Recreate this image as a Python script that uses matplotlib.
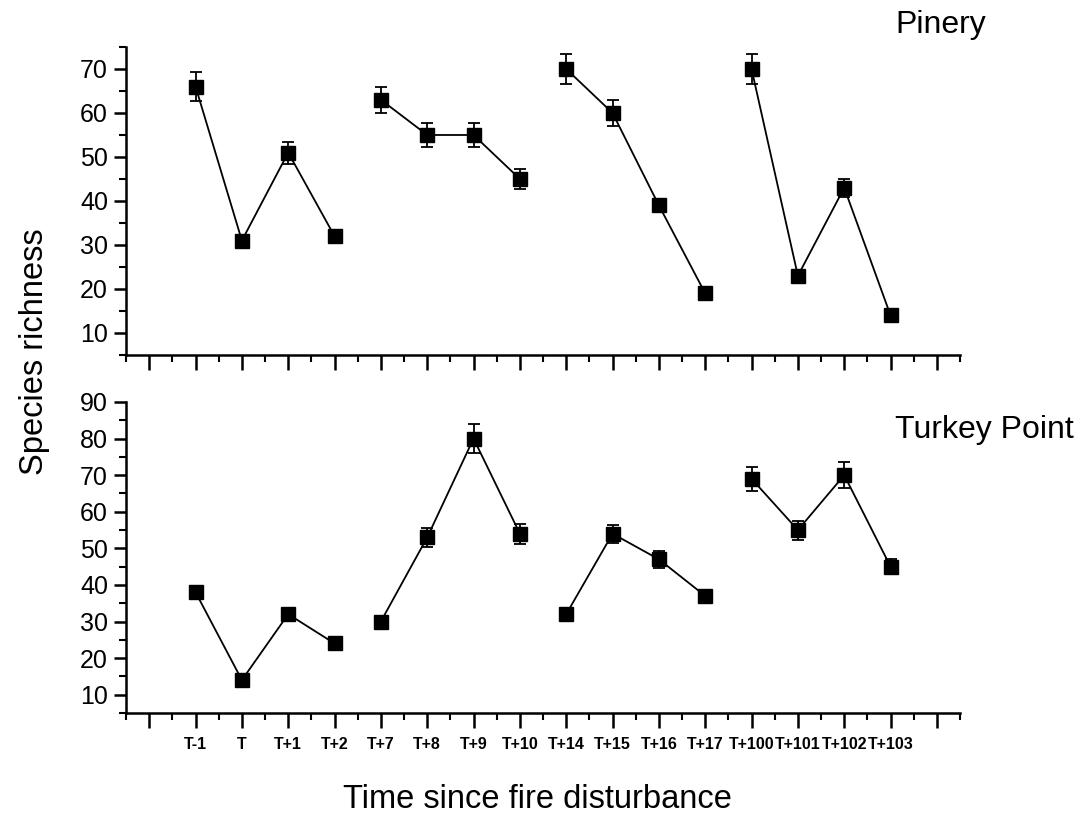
import numpy as np
import matplotlib
matplotlib.use("Agg")
import matplotlib.pyplot as plt
from matplotlib.ticker import MultipleLocator

plt.rcParams['font.family'] = ['Liberation Sans', 'DejaVu Sans']

# sampling times since the fire, in four series of four
time_labels = ['T-1', 'T', 'T+1', 'T+2', 'T+7', 'T+8', 'T+9', 'T+10',
               'T+14', 'T+15', 'T+16', 'T+17', 'T+100', 'T+101', 'T+102', 'T+103']
group_size = 4

pinery_rich = [66, 31, 51, 32, 63, 55, 55, 45, 70, 60, 39, 19, 70, 23, 43, 14]
pinery_err = [3.3, 1.0, 2.5, 1.0, 3.0, 2.7, 2.7, 2.2, 3.5, 3.0, 1.5, 0.5, 3.5, 0.8, 2.0, 0.5]

turkey_rich = [38, 14, 32, 24, 30, 53, 80, 54, 32, 54, 47, 37, 69, 55, 70, 45]
turkey_err = [1.0, 0.8, 0.8, 0.5, 0.5, 2.5, 4.0, 2.7, 0.5, 2.5, 2.3, 1.2, 3.3, 2.6, 3.5, 2.0]

x = np.arange(1, len(time_labels) + 1)

fig = plt.figure(figsize=(10.82, 8.17), dpi=100)
ax_top = fig.add_axes([0.1165, 0.5655, 0.7708, 0.377])
ax_bot = fig.add_axes([0.1165, 0.1273, 0.7708, 0.3807])


def draw_site(ax, rich, err, ylim, ymax_tick):
    rich = np.asarray(rich, float)
    err = np.asarray(err, float)
    for start in range(0, len(x), group_size):
        sl = slice(start, start + group_size)
        ax.errorbar(x[sl], rich[sl], yerr=err[sl], fmt='s-', color='black',
                    ms=10, lw=1.3, elinewidth=1.3, capsize=4.5, capthick=1.3)
    ax.set_xlim(-0.5, 17.5)
    ax.set_ylim(*ylim)
    ax.set_yticks(np.arange(10, ymax_tick + 1, 10))
    ax.yaxis.set_minor_locator(MultipleLocator(5))
    ax.set_xticks(np.arange(0, 18))
    ax.xaxis.set_minor_locator(MultipleLocator(0.5))
    for side in ('top', 'right'):
        ax.spines[side].set_visible(False)
    for side in ('left', 'bottom'):
        ax.spines[side].set_linewidth(1.8)
    ax.tick_params(which='major', direction='out', length=9, width=1.8,
                   labelsize=18, pad=4)
    ax.tick_params(which='minor', direction='out', length=5, width=1.5)
    ax.tick_params(axis='x', which='major', length=11)


draw_site(ax_top, pinery_rich, pinery_err, (5, 75), 70)
draw_site(ax_bot, turkey_rich, turkey_err, (5, 90), 90)

ax_top.set_xticklabels([])
ax_bot.set_xticklabels([''] + time_labels + [''], fontsize=11.5, fontweight='bold')
ax_bot.tick_params(axis='x', which='major', pad=6)

fig.text(0.911, 0.969, 'Pinery', fontsize=23, ha='right', va='center')
fig.text(0.992, 0.474, 'Turkey Point', fontsize=23, ha='right', va='center')
fig.text(0.032, 0.57, 'Species richness', fontsize=23.5, rotation=90,
         ha='center', va='center')
fig.text(0.497, 0.021, 'Time since fire disturbance', fontsize=23.5,
         ha='center', va='center')

fig.savefig('out.png', dpi=100)
